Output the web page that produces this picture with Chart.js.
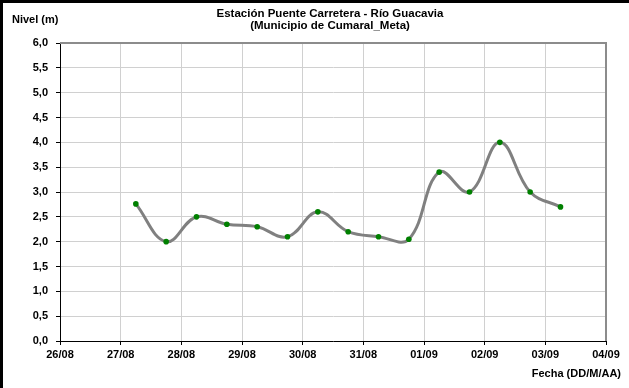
<!DOCTYPE html>
<html>
<head>
<meta charset="utf-8">
<script src="https://cdn.jsdelivr.net/npm/chart.js@4"></script>
<style>
  body { margin: 0; background: #fff; }
  #wrap { width: 629px; height: 388px; }
</style>
</head>
<body>
<div id="wrap"><canvas id="nivelChart" width="629" height="388"></canvas></div>
<script>
const etiquetas = ["26/08", "27/08", "28/08", "29/08", "30/08", "31/08", "01/09", "02/09", "03/09", "04/09"];
const fechas = ["27/08 06:00", "27/08 18:00", "28/08 06:00", "28/08 18:00", "29/08 06:00", "29/08 18:00",
  "30/08 06:00", "30/08 18:00", "31/08 06:00", "31/08 18:00", "01/09 06:00", "01/09 18:00",
  "02/09 06:00", "02/09 18:00", "03/09 06:00"];
const nivel = [2.76, 2.0, 2.5, 2.35, 2.3, 2.1, 2.6, 2.2, 2.1, 2.05, 3.4, 3.0, 4.0, 3.0, 2.7];

// fecha -> dias desde 26/08
const toDia = f => {
  const [d, h] = f.split(" ");
  return etiquetas.indexOf(d) + parseInt(h) / 24;
};
const puntos = fechas.map((f, i) => ({ x: toDia(f), y: nivel[i] }));

const fuente = { family: "'Liberation Sans', Arial, sans-serif", size: 11, weight: "bold" };

const decoracion = {
  id: "decoracion",
  afterDraw(chart) {
    const ctx = chart.ctx;
    const a = chart.chartArea;
    ctx.save();
    // borde del area de trazado (arriba y derecha)
    ctx.strokeStyle = "#8c8c8c";
    ctx.lineWidth = 2;
    ctx.beginPath();
    ctx.moveTo(a.left, a.top);
    ctx.lineTo(a.right, a.top);
    ctx.lineTo(a.right, a.bottom);
    ctx.stroke();
    // marco exterior
    ctx.fillStyle = "#000";
    ctx.fillRect(0, 0, 629, 3);
    ctx.fillRect(0, 0, 3, 388);
    // textos
    ctx.font = "bold 11.5px 'Liberation Sans', Arial, sans-serif";
    ctx.fillStyle = "#000";
    ctx.textAlign = "center";
    ctx.fillText("Estación Puente Carretera - Río Guacavia", 330, 17);
    ctx.fillText("(Municipio de Cumaral_Meta)", 330, 29);
    ctx.font = "bold 11px 'Liberation Sans', Arial, sans-serif";
    ctx.textAlign = "left";
    ctx.fillText("Nivel (m)", 12, 23);
    ctx.textAlign = "right";
    ctx.fillText("Fecha (DD/M/AA)", 621, 377);
    ctx.restore();
  }
};

new Chart(document.getElementById("nivelChart"), {
  type: "line",
  data: {
    datasets: [{
      data: puntos,
      borderColor: "#808080",
      borderWidth: 3,
      tension: 0.4,
      pointBackgroundColor: "#008000",
      pointBorderWidth: 0,
      pointRadius: 2.8,
      fill: false
    }]
  },
  options: {
    responsive: false,
    animation: false,
    layout: { padding: { top: 43, right: 23, left: 0, bottom: 0 } },
    plugins: { legend: { display: false }, tooltip: { enabled: false } },
    scales: {
      x: {
        type: "linear",
        min: 0,
        max: 9,
        afterFit: s => { s.height = 47; },
        ticks: {
          stepSize: 1,
          autoSkip: false,
          maxRotation: 0,
          padding: 3,
          color: "#000",
          font: fuente,
          callback: v => etiquetas[v]
        },
        grid: { color: "#d0d0d0", tickColor: "#000", tickLength: 4 },
        border: { color: "#000" }
      },
      y: {
        min: 0,
        max: 6,
        afterFit: s => { s.width = 60; },
        ticks: {
          stepSize: 0.5,
          padding: 8,
          color: "#000",
          font: fuente,
          callback: v => v.toFixed(1).replace(".", ",")
        },
        grid: { color: "#d0d0d0", tickColor: "#000", tickLength: 4 },
        border: { color: "#000" }
      }
    }
  },
  plugins: [decoracion]
});
</script>
</body>
</html>
